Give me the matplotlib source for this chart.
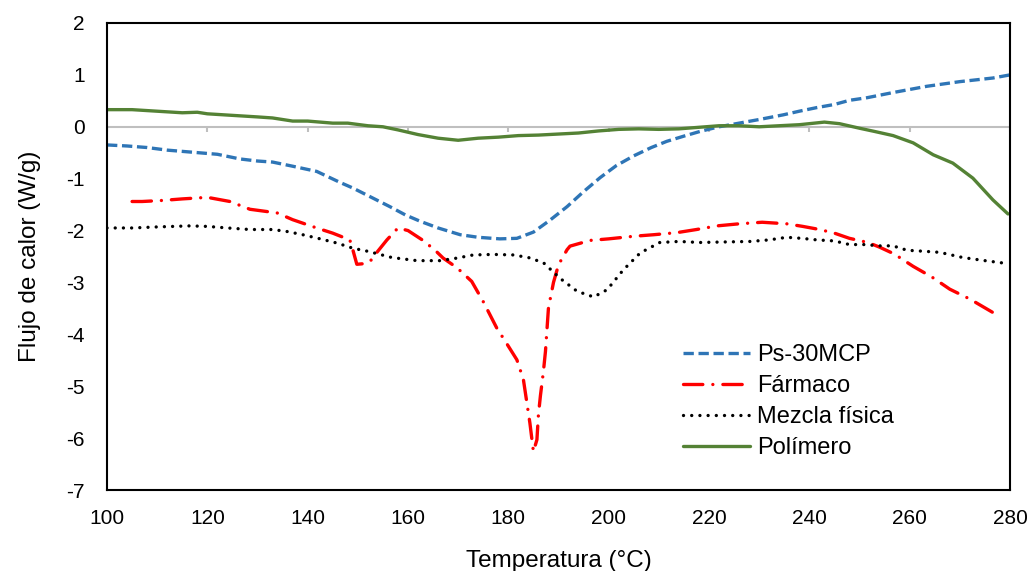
import matplotlib
matplotlib.use("Agg")
import matplotlib.pyplot as plt

# ---- data ----
t_ps = [100, 104, 108, 112, 117, 122, 126.5, 130, 133, 137, 141.8, 146.4, 149, 152.5, 156.4, 159.5, 162.4,
        166, 170.4, 174, 178.3, 181.7, 185, 188.3, 191.7, 195, 198.3, 201.5, 205, 208.5, 211.6, 215, 218.2,
        222, 226, 230, 234.8, 238, 241.5, 245, 248, 251.5, 256.7, 263.4, 270, 276.6, 280]
y_ps = [-0.35, -0.37, -0.40, -0.45, -0.49, -0.53, -0.62, -0.66, -0.68, -0.76, -0.86, -1.07, -1.18, -1.35,
        -1.54, -1.70, -1.82, -1.95, -2.08, -2.13, -2.16, -2.15, -2.03, -1.80, -1.54, -1.25, -0.98, -0.75,
        -0.56, -0.40, -0.28, -0.18, -0.09, 0.00, 0.07, 0.14, 0.23, 0.30, 0.37, 0.43, 0.51, 0.56, 0.66, 0.78,
        0.87, 0.94, 1.00]

t_far = [105, 107, 111, 115, 120, 124.5, 128.5, 133.9, 137, 141.8, 145, 148.4, 149, 149.8, 151, 152.4,
         153.8, 155.8, 158, 160, 163, 165.4, 167, 169.8, 172.7, 175, 177.7, 179.3, 181.7, 183, 184.3, 185,
         185.7, 186, 186.4, 187, 187.4, 187.7, 188, 189, 190, 191.7, 192.3, 196.3, 200, 205, 209, 213.6,
         217.5, 221.6, 226, 230.6, 235.5, 238.7, 241.5, 244.7, 248, 251.7, 254, 256.9, 260.7, 264.5, 268,
         272, 276.6, 278]
y_far = [-1.44, -1.44, -1.42, -1.39, -1.36, -1.44, -1.59, -1.66, -1.79, -1.95, -2.05, -2.18, -2.37, -2.65,
         -2.64, -2.60, -2.42, -2.18, -1.95, -2.00, -2.19, -2.38, -2.53, -2.72, -2.98, -3.37, -3.88, -4.12,
         -4.49, -4.87, -5.71, -6.26, -6.03, -5.55, -5.18, -4.71, -4.33, -3.91, -3.49, -3.00, -2.66, -2.37,
         -2.30, -2.19, -2.16, -2.11, -2.08, -2.04, -1.98, -1.91, -1.87, -1.84, -1.87, -1.92, -1.97, -2.04,
         -2.15, -2.23, -2.32, -2.45, -2.69, -2.90, -3.13, -3.32, -3.58, -3.68]

t_mez = [100, 105, 110, 116.5, 120, 124, 128.5, 133, 136, 139, 142.5, 145.8, 149, 152, 156.8, 161.8, 166.4,
         169.8, 173, 177, 181, 184, 187, 190.3, 193.7, 197, 199.7, 202.9, 206.3, 210.2, 214, 218.2, 223,
         228.2, 232, 235.5, 238.5, 241.5, 245, 248, 251, 254.7, 256.5, 259.5, 263, 266, 270.6, 275, 279]
y_mez = [-1.95, -1.95, -1.93, -1.91, -1.92, -1.95, -1.98, -1.98, -2.02, -2.08, -2.16, -2.24, -2.34, -2.40,
         -2.52, -2.58, -2.58, -2.53, -2.47, -2.46, -2.47, -2.52, -2.62, -2.92, -3.17, -3.28, -3.14, -2.76,
         -2.43, -2.23, -2.21, -2.23, -2.22, -2.21, -2.18, -2.13, -2.15, -2.18, -2.20, -2.27, -2.27, -2.30,
         -2.29, -2.38, -2.40, -2.42, -2.52, -2.58, -2.63]

t_pol = [100, 105, 110, 115, 118, 120, 125, 130, 133, 137, 140, 145, 148, 152, 155, 158, 162, 166, 170,
         174, 178, 182, 186, 190, 194, 198, 202, 206, 210, 214, 218, 222, 226, 230, 234, 238, 241, 243, 246,
         250.1, 253, 256.7, 260.7, 264.7, 268.6, 272.6, 276.6, 279.6]
y_pol = [0.33, 0.33, 0.30, 0.27, 0.28, 0.25, 0.22, 0.19, 0.17, 0.11, 0.11, 0.07, 0.07, 0.02, 0.00, -0.06,
         -0.15, -0.22, -0.26, -0.22, -0.20, -0.17, -0.16, -0.14, -0.12, -0.08, -0.05, -0.04, -0.05, -0.04,
         -0.01, 0.02, 0.02, 0.00, 0.02, 0.04, 0.07, 0.09, 0.06, -0.03, -0.09, -0.17, -0.31, -0.54, -0.70,
         -0.99, -1.41, -1.68]

labels = ["Ps-30MCP", "Fármaco", "Mezcla física", "Polímero"]
x_ticks = [100, 120, 140, 160, 180, 200, 220, 240, 260, 280]
y_ticks = [2, 1, 0, -1, -2, -3, -4, -5, -6, -7]

plt.rcParams['font.family'] = ['Liberation Sans', 'DejaVu Sans']
plt.rcParams['axes.unicode_minus'] = False

fig = plt.figure(figsize=(10.34, 5.71), dpi=100)
ax = fig.add_axes([107/1034, 1-490/571, (1010-107)/1034, (490-23)/571])

lw = 2.4
ax.plot(t_ps, y_ps, color='#2E75B6', lw=lw, linestyle=(0, (3.1, 1.4)), label=labels[0],
        dash_capstyle='butt')
ax.plot(t_far, y_far, color='#FF0000', lw=lw, linestyle=(0, (5.8, 3.0, 0.01, 3.0)), label=labels[1],
        dash_capstyle='round')
ax.plot(t_mez, y_mez, color='black', lw=lw, linestyle=(0, (0.01, 2.45)), label=labels[2],
        dash_capstyle='round')
ax.plot(t_pol, y_pol, color='#548235', lw=lw, linestyle='-', label=labels[3],
        solid_capstyle='round')

ax.set_xlim(100, 280)
ax.set_ylim(-7, 2)
ax.set_xticks(x_ticks)
ax.set_yticks(y_ticks)
ax.tick_params(axis='both', length=0, labelsize=15)
ax.tick_params(axis='x', pad=14)
ax.tick_params(axis='y', pad=16)

# zero axis line with small gray tick marks (Excel-style)
ax.axhline(0, color='#BFBFBF', lw=1.5, zorder=0.5)
for xt in x_ticks:
    ax.plot([xt, xt], [0, -0.1], color='#BFBFBF', lw=1.5, zorder=0.5, solid_capstyle='butt')

for s in ax.spines.values():
    s.set_color('black')
    s.set_linewidth(1.5)

ax.set_xlabel("Temperatura (°C)", fontsize=17.5, labelpad=15.5)
ax.set_ylabel("Flujo de calor (W/g)", fontsize=17.5, labelpad=18)

leg = ax.legend(loc='upper left', bbox_to_anchor=(683/1034, 1-344/571), bbox_transform=fig.transFigure,
                frameon=False, fontsize=17, handlelength=2.85, handletextpad=0.3, labelspacing=0.38,
                borderpad=0, borderaxespad=0)

fig.savefig("out.png", dpi=100)
